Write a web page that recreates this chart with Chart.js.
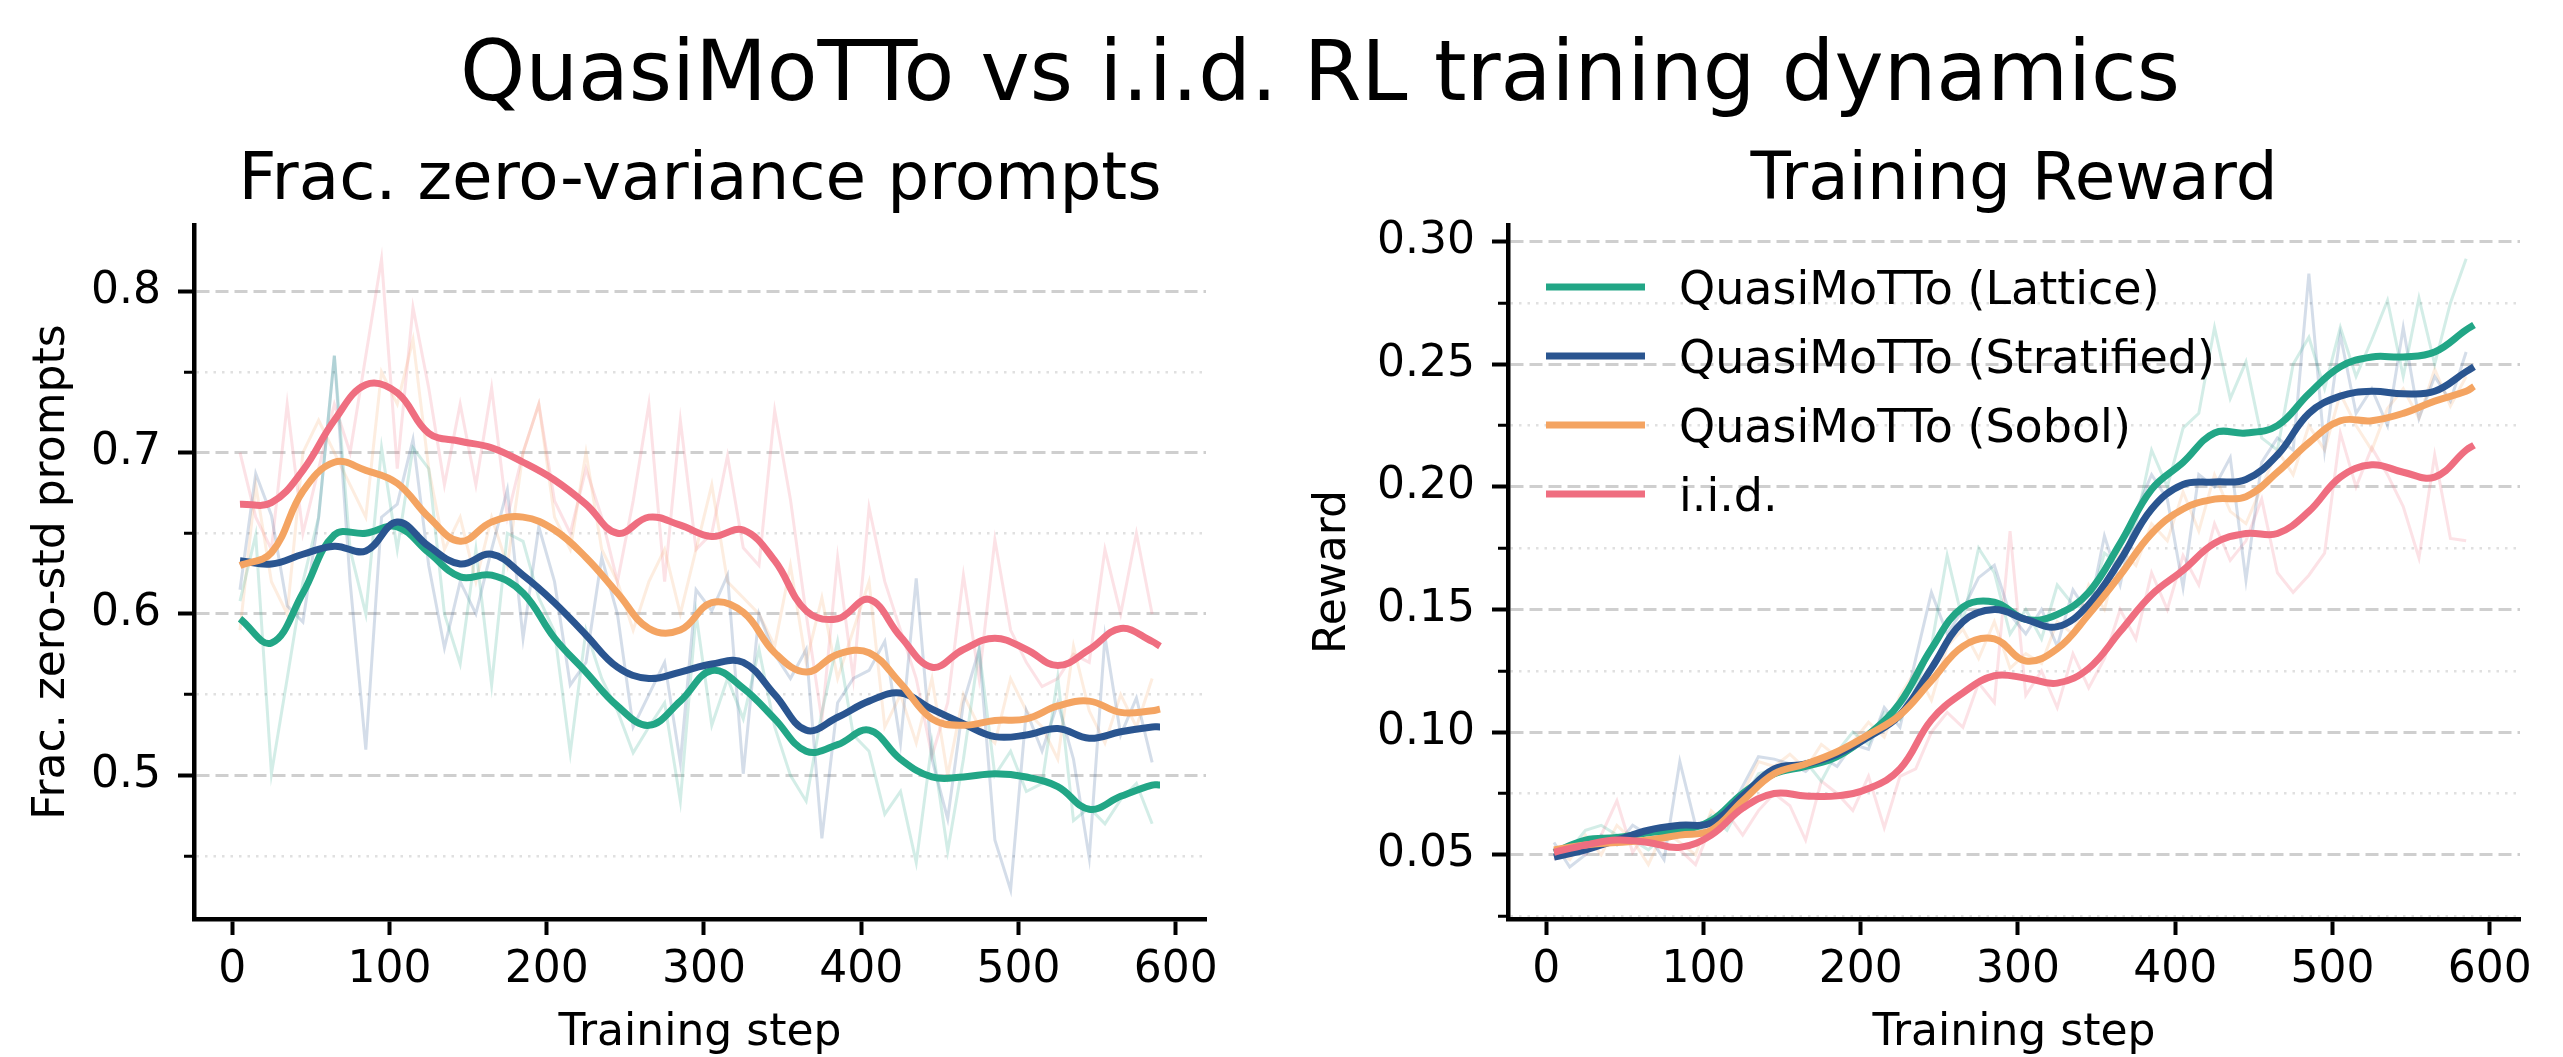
<!DOCTYPE html>
<html>
<head>
<meta charset="utf-8">
<title>QuasiMoTTo vs i.i.d. RL training dynamics</title>
<script src="https://cdn.jsdelivr.net/npm/chart.js@4.4.1/dist/chart.umd.min.js"></script>
<style>
    html, body { margin: 0; padding: 0; background: #ffffff; }
    body { width: 2563px; height: 1057px; position: relative; overflow: hidden; font-family: "DejaVu Sans", sans-serif; }
    #suptitle { position: absolute; left: 1320px; top: 30px; transform: translateX(-50%); font-size: 83px; line-height: 83px; white-space: nowrap; color: #000; }
    canvas { position: absolute; top: 0; }
    #zeroVarChart { left: 0; }
    #rewardChart { left: 1281px; }
</style>
</head>
<body>
<div id="suptitle">QuasiMoTTo vs i.i.d. RL training dynamics</div>
<canvas id="zeroVarChart" width="1281" height="1057"></canvas>
<canvas id="rewardChart" width="1282" height="1057"></canvas>
<script>
const FONT = "'DejaVu Sans', sans-serif";

// Training steps
const smoothSteps = [5, 25, 45, 65, 85, 105, 125, 145, 165, 185, 205, 225, 245, 265, 285, 305,
    325, 345, 365, 385, 405, 425, 445, 465, 485, 505, 525, 545, 565, 585, 590];
const rawSteps = [5, 15, 25, 35, 45, 55, 65, 75, 85, 95, 105, 115, 125, 135, 145, 155, 165, 175, 185, 195,
    205, 215, 225, 235, 245, 255, 265, 275, 285, 295, 305, 315, 325, 335, 345, 355, 365, 375, 385, 395,
    405, 415, 425, 435, 445, 455, 465, 475, 485, 495, 505, 515, 525, 535, 545, 555, 565, 575, 585];
const xTicks = [0, 100, 200, 300, 400, 500, 600];

const seriesNames = ['QuasiMoTTo (Lattice)', 'QuasiMoTTo (Stratified)', 'QuasiMoTTo (Sobol)', 'i.i.d.'];
const seriesColors = ['#22a686', '#2a5590', '#f4a462', '#ef6e80'];

// Frac. zero-variance prompts - smoothed
const zvLattice = [0.597, 0.582, 0.613, 0.649, 0.650, 0.654, 0.638, 0.623, 0.624, 0.613, 0.585, 0.564, 0.543, 0.531, 0.546, 0.565,
    0.554, 0.535, 0.515, 0.519, 0.528, 0.510, 0.499, 0.499, 0.501, 0.499, 0.493, 0.479, 0.487, 0.494, 0.494];
const zvStratified = [0.633, 0.631, 0.637, 0.642, 0.639, 0.657, 0.642, 0.631, 0.637, 0.624, 0.607, 0.587, 0.567, 0.560, 0.564, 0.569,
    0.570, 0.550, 0.528, 0.536, 0.546, 0.551, 0.541, 0.532, 0.524, 0.525, 0.529, 0.523, 0.527, 0.530, 0.530];
const zvSobol = [0.630, 0.638, 0.676, 0.694, 0.689, 0.681, 0.660, 0.645, 0.657, 0.660, 0.652, 0.635, 0.613, 0.591, 0.590, 0.607,
    0.601, 0.576, 0.564, 0.575, 0.576, 0.557, 0.535, 0.531, 0.534, 0.535, 0.543, 0.546, 0.539, 0.540, 0.541];
const zvIid = [0.668, 0.669, 0.689, 0.720, 0.742, 0.737, 0.712, 0.707, 0.703, 0.694, 0.683, 0.668, 0.650, 0.660, 0.655, 0.648,
    0.652, 0.633, 0.602, 0.597, 0.609, 0.586, 0.567, 0.578, 0.585, 0.578, 0.568, 0.578, 0.591, 0.583, 0.580];

// Frac. zero-variance prompts - raw
const zvRawLattice = [0.608, 0.649, 0.501, 0.560, 0.620, 0.660, 0.760, 0.640, 0.600, 0.703,
    0.640, 0.703, 0.690, 0.600, 0.569, 0.640, 0.556, 0.650, 0.645, 0.610,
    0.589, 0.514, 0.590, 0.560, 0.540, 0.514, 0.530, 0.545, 0.484, 0.600,
    0.531, 0.560, 0.535, 0.578, 0.530, 0.500, 0.484, 0.539, 0.583, 0.525,
    0.515, 0.476, 0.490, 0.446, 0.520, 0.453, 0.510, 0.578, 0.500, 0.515,
    0.490, 0.495, 0.561, 0.472, 0.480, 0.470, 0.485, 0.495, 0.470];
const zvRawStratified = [0.615, 0.687, 0.661, 0.605, 0.595, 0.660, 0.760, 0.620, 0.516, 0.660,
    0.668, 0.708, 0.630, 0.579, 0.620, 0.600, 0.640, 0.677, 0.585, 0.654,
    0.620, 0.556, 0.570, 0.635, 0.600, 0.530, 0.550, 0.570, 0.508, 0.615,
    0.602, 0.624, 0.501, 0.600, 0.575, 0.560, 0.578, 0.461, 0.545, 0.560,
    0.565, 0.583, 0.520, 0.622, 0.510, 0.473, 0.545, 0.578, 0.460, 0.429,
    0.540, 0.515, 0.545, 0.510, 0.449, 0.586, 0.525, 0.548, 0.508];
const zvRawSobol = [0.59, 0.68, 0.62, 0.60, 0.70, 0.72, 0.70, 0.68, 0.66, 0.75,
    0.73, 0.77, 0.69, 0.64, 0.66, 0.62, 0.66, 0.63, 0.70, 0.73,
    0.66, 0.64, 0.70, 0.64, 0.62, 0.59, 0.62, 0.64, 0.60, 0.64,
    0.68, 0.62, 0.61, 0.60, 0.58, 0.63, 0.57, 0.61, 0.56, 0.59,
    0.62, 0.53, 0.55, 0.52, 0.56, 0.50, 0.55, 0.53, 0.52, 0.56,
    0.54, 0.53, 0.51, 0.58, 0.54, 0.52, 0.55, 0.53, 0.56];
const zvRawIid = [0.70, 0.66, 0.64, 0.73, 0.65, 0.69, 0.73, 0.70, 0.76, 0.82,
    0.69, 0.79, 0.74, 0.68, 0.73, 0.68, 0.74, 0.66, 0.70, 0.73,
    0.67, 0.65, 0.69, 0.66, 0.62, 0.67, 0.73, 0.62, 0.72, 0.64,
    0.650, 0.698, 0.641, 0.630, 0.726, 0.671, 0.600, 0.534, 0.635, 0.560,
    0.666, 0.620, 0.590, 0.560, 0.512, 0.545, 0.624, 0.560, 0.646, 0.590,
    0.570, 0.555, 0.560, 0.575, 0.570, 0.640, 0.600, 0.650, 0.600];

const zvTicks = [0.45, 0.5, 0.55, 0.6, 0.65, 0.7, 0.75, 0.8];
const zvTickLabels = ['', '0.5', '', '0.6', '', '0.7', '', '0.8'];

// Training reward - smoothed
const rwLattice = [0.051, 0.056, 0.057, 0.059, 0.060, 0.064, 0.075, 0.083, 0.086, 0.090, 0.099, 0.112, 0.134, 0.151, 0.153, 0.146,
    0.148, 0.157, 0.177, 0.199, 0.210, 0.222, 0.222, 0.225, 0.238, 0.249, 0.253, 0.253, 0.255, 0.264, 0.266];
const rwStratified = [0.049, 0.052, 0.056, 0.060, 0.062, 0.063, 0.074, 0.085, 0.087, 0.091, 0.098, 0.107, 0.126, 0.145, 0.150, 0.146,
    0.143, 0.152, 0.170, 0.191, 0.201, 0.202, 0.203, 0.213, 0.230, 0.237, 0.239, 0.238, 0.239, 0.247, 0.249];
const rwSobol = [0.052, 0.054, 0.055, 0.056, 0.058, 0.060, 0.072, 0.083, 0.087, 0.092, 0.099, 0.107, 0.121, 0.135, 0.138, 0.129,
    0.134, 0.148, 0.164, 0.181, 0.191, 0.195, 0.196, 0.206, 0.218, 0.227, 0.227, 0.230, 0.235, 0.239, 0.241];
const rwIid = [0.051, 0.054, 0.056, 0.055, 0.053, 0.058, 0.069, 0.075, 0.074, 0.074, 0.077, 0.085, 0.105, 0.116, 0.123, 0.122,
    0.120, 0.126, 0.141, 0.156, 0.166, 0.177, 0.181, 0.181, 0.190, 0.204, 0.209, 0.206, 0.204, 0.215, 0.217];

// Training reward - raw
const rwRawLattice = [0.050, 0.052, 0.060, 0.062, 0.058, 0.056, 0.052, 0.058, 0.062, 0.058,
    0.066, 0.060, 0.072, 0.083, 0.085, 0.084, 0.088, 0.080, 0.092, 0.100,
    0.095, 0.108, 0.105, 0.118, 0.135, 0.172, 0.145, 0.175, 0.165, 0.140,
    0.150, 0.138, 0.160, 0.152, 0.150, 0.173, 0.168, 0.185, 0.215, 0.200,
    0.224, 0.230, 0.265, 0.236, 0.251, 0.220, 0.215, 0.250, 0.261, 0.240,
    0.265, 0.245, 0.260, 0.276, 0.245, 0.277, 0.250, 0.275, 0.293];
const rwRawStratified = [0.055, 0.045, 0.050, 0.058, 0.054, 0.062, 0.058, 0.048, 0.088, 0.062,
    0.058, 0.066, 0.078, 0.090, 0.089, 0.087, 0.084, 0.090, 0.086, 0.095,
    0.093, 0.110, 0.102, 0.130, 0.157, 0.140, 0.150, 0.163, 0.168, 0.148,
    0.140, 0.150, 0.135, 0.158, 0.148, 0.180, 0.160, 0.190, 0.205, 0.195,
    0.159, 0.205, 0.200, 0.212, 0.162, 0.210, 0.220, 0.215, 0.287, 0.215,
    0.262, 0.230, 0.240, 0.225, 0.265, 0.228, 0.245, 0.235, 0.255];
const rwRawSobol = [0.052, 0.048, 0.058, 0.050, 0.062, 0.056, 0.046, 0.060, 0.055, 0.050,
    0.068, 0.062, 0.075, 0.088, 0.086, 0.091, 0.085, 0.095, 0.090, 0.096,
    0.104, 0.098, 0.115, 0.125, 0.113, 0.135, 0.142, 0.130, 0.145, 0.126,
    0.132, 0.128, 0.145, 0.140, 0.160, 0.150, 0.175, 0.168, 0.185, 0.178,
    0.198, 0.182, 0.205, 0.190, 0.185, 0.200, 0.215, 0.205, 0.225, 0.215,
    0.238, 0.225, 0.215, 0.232, 0.240, 0.228, 0.248, 0.233, 0.245];
const rwRawIid = [0.048, 0.052, 0.050, 0.058, 0.072, 0.051, 0.060, 0.055, 0.052, 0.046,
    0.062, 0.067, 0.058, 0.068, 0.075, 0.070, 0.056, 0.080, 0.075, 0.068,
    0.082, 0.061, 0.082, 0.085, 0.100, 0.108, 0.102, 0.120, 0.112, 0.182,
    0.115, 0.125, 0.110, 0.132, 0.118, 0.130, 0.150, 0.138, 0.165, 0.150,
    0.172, 0.160, 0.185, 0.170, 0.178, 0.195, 0.165, 0.157, 0.164, 0.173,
    0.222, 0.200, 0.216, 0.205, 0.192, 0.171, 0.213, 0.179, 0.178];

const rwTicks = [0.025, 0.05, 0.075, 0.1, 0.125, 0.15, 0.175, 0.2, 0.225, 0.25, 0.275, 0.3];
const rwTickLabels = ['', '0.05', '', '0.10', '', '0.15', '', '0.20', '', '0.25', '', '0.30'];

function fade(hex, a) {
    const n = parseInt(hex.slice(1), 16);
    return `rgba(${(n >> 16) & 255}, ${(n >> 8) & 255}, ${n & 255}, ${a})`;
}

function makeDatasets(smooth, raw) {
    const sets = [];
    seriesNames.forEach(function(name, i) {
        sets.push({
            label: '',
            data: rawSteps.map((x, j) => ({x: x, y: raw[i][j]})),
            borderColor: fade(seriesColors[i], 0.2),
            borderWidth: 3,
            pointRadius: 0,
            order: 10 + i
        });
    });
    seriesNames.forEach(function(name, i) {
        sets.push({
            label: name,
            data: smoothSteps.map((x, j) => ({x: x, y: smooth[i][j]})),
            borderColor: seriesColors[i],
            borderWidth: 7,
            pointRadius: 0,
            tension: 0.4,
            order: 4 - i
        });
    });
    return sets;
}

// Subplot title centred over the plot area (like matplotlib)
const panelTitle = {
    id: 'panelTitle',
    afterDraw(chart, args, opts) {
        const {ctx, chartArea} = chart;
        ctx.save();
        ctx.font = `66px ${FONT}`;
        ctx.fillStyle = '#000';
        ctx.textAlign = 'center';
        ctx.textBaseline = 'alphabetic';
        ctx.fillText(opts.text, (chartArea.left + chartArea.right) / 2, chartArea.top - 26);
        ctx.restore();
    }
};

// Frameless legend inside the plot area
const insideLegend = {
    id: 'insideLegend',
    afterDatasetsDraw(chart, args, opts) {
        if (!opts.display) return;
        const {ctx, chartArea} = chart;
        const items = chart.data.datasets.filter(d => d.label);
        const x0 = chartArea.left + 38;
        ctx.save();
        ctx.font = `46px ${FONT}`;
        ctx.textBaseline = 'alphabetic';
        items.forEach(function(d, i) {
            const y = chartArea.top + 62 + i * 69;
            ctx.strokeStyle = d.borderColor;
            ctx.lineWidth = 7;
            ctx.beginPath();
            ctx.moveTo(x0, y);
            ctx.lineTo(x0 + 99, y);
            ctx.stroke();
            ctx.fillStyle = '#000';
            ctx.fillText(d.label, x0 + 133, y + 16.5);
        });
        ctx.restore();
    }
};

function xScale() {
    return {
        type: 'linear',
        min: -24.25,
        max: 619.25,
        afterBuildTicks: function(scale) { scale.ticks = xTicks.map(v => ({value: v})); },
        afterFit: function(scale) { scale.height = 138; },
        ticks: {
            autoSkip: false,
            maxRotation: 0,
            padding: 9,
            color: '#000',
            font: {family: FONT, size: 44},
            callback: function(value, index) { return String(xTicks[index]); }
        },
        grid: { drawOnChartArea: false, tickLength: 16, tickWidth: 4, tickColor: '#000' },
        border: { color: '#000', width: 4.5 },
        title: {
            display: true,
            text: 'Training step',
            color: '#000',
            font: {family: FONT, size: 44, lineHeight: 1},
            padding: {top: 0, bottom: 1}
        }
    };
}

function yScale(ticks, labels, min, max, width, titleText) {
    const isMajor = c => labels[c.index] !== '' && labels[c.index] !== undefined;
    return {
        type: 'linear',
        min: min,
        max: max,
        afterBuildTicks: function(scale) { scale.ticks = ticks.map(v => ({value: v})); },
        afterFit: function(scale) { scale.width = width; },
        ticks: {
            autoSkip: false,
            padding: 17,
            color: '#000',
            font: {family: FONT, size: 44},
            callback: function(value, index) { return labels[index]; }
        },
        grid: {
            color: c => isMajor(c) ? '#cfcfcf' : '#e0e0e0',
            lineWidth: c => isMajor(c) ? 3 : 2.5,
            tickLength: 16,
            tickColor: '#000',
            tickWidth: c => isMajor(c) ? 4 : 3,
            tickBorderDash: c => isMajor(c) ? [] : [0, 6, 100, 0]
        },
        border: {
            color: '#000',
            width: 4.5,
            dash: c => (c.tick && isMajor(c)) ? [13, 6] : [2.5, 6]
        },
        title: {
            display: true,
            text: titleText,
            color: '#000',
            font: {family: FONT, size: 44, lineHeight: 1},
            padding: {top: 31, bottom: 0}
        }
    };
}

function makeChart(id, smooth, raw, yOpts, rightPad, title, showLegend) {
    return new Chart(document.getElementById(id).getContext('2d'), {
        type: 'line',
        data: { datasets: makeDatasets(smooth, raw) },
        options: {
            responsive: false,
            animation: false,
            devicePixelRatio: 1,
            layout: { padding: {top: 225, right: rightPad, bottom: 0, left: 0} },
            scales: { x: xScale(), y: yOpts },
            plugins: {
                legend: { display: false },
                tooltip: { enabled: false },
                panelTitle: { text: title },
                insideLegend: { display: showLegend }
            }
        },
        plugins: [panelTitle, insideLegend]
    });
}

makeChart('zeroVarChart',
    [zvLattice, zvStratified, zvSobol, zvIid],
    [zvRawLattice, zvRawStratified, zvRawSobol, zvRawIid],
    yScale(zvTicks, zvTickLabels, 0.411, 0.841, 194, 'Frac. zero-std prompts'),
    75, 'Frac. zero-variance prompts', false);

makeChart('rewardChart',
    [rwLattice, rwStratified, rwSobol, rwIid],
    [rwRawLattice, rwRawStratified, rwRawSobol, rwRawIid],
    yScale(rwTicks, rwTickLabels, 0.0238, 0.3068, 227, 'Reward'),
    43, 'Training Reward', true);
</script>
</body>
</html>
